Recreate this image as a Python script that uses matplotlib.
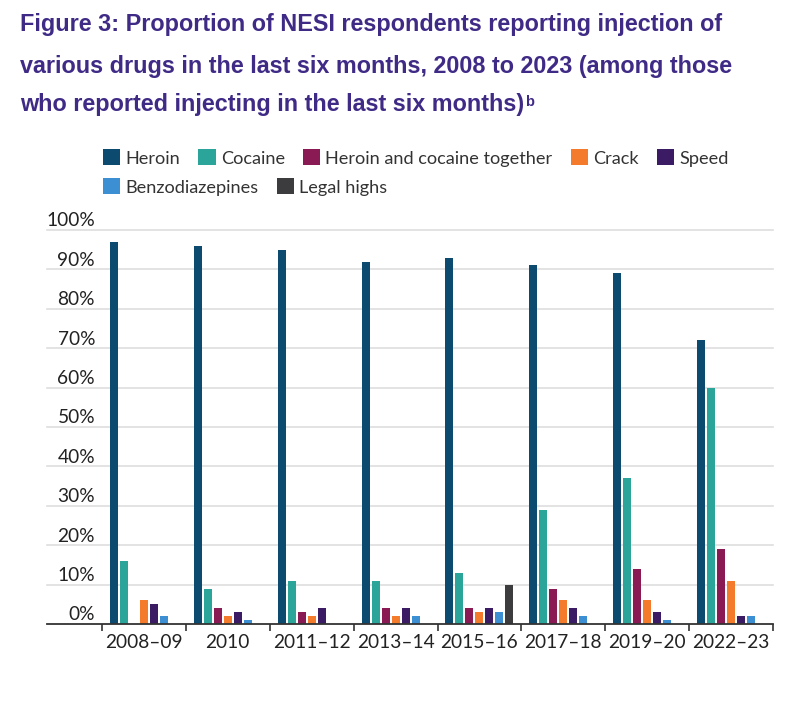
import numpy as np
import matplotlib
matplotlib.use("Agg")
import matplotlib.pyplot as plt
from matplotlib.patches import Patch

categories = ["2008–09", "2010", "2011–12", "2013–14", "2015–16", "2017–18", "2019–20", "2022–23"]
series_names = ["Heroin", "Cocaine", "Heroin and cocaine together", "Crack", "Speed",
                "Benzodiazepines", "Legal highs"]
heroin = [97, 96, 95, 92, 93, 91, 89, 72]
cocaine = [16, 9, 11, 11, 13, 29, 37, 60]
heroin_cocaine = [None, 4, 3, 4, 4, 9, 14, 19]
crack = [6, 2, 2, 2, 3, 6, 6, 11]
speed = [5, 3, 4, 4, 4, 4, 3, 2]
benzodiazepines = [2, 1, None, 2, 3, 2, 1, 2]
legal_highs = [None, None, None, None, 10, None, None, None]
y_ticks = [0, 10, 20, 30, 40, 50, 60, 70, 80, 90, 100]

series = [heroin, cocaine, heroin_cocaine, crack, speed, benzodiazepines, legal_highs]
colors = ["#0d4a70", "#2ba59a", "#8a1a54", "#f47b2b", "#3b1b63", "#3d8fd4", "#3c3c3e"]

W, H = 801, 702
fig = plt.figure(figsize=(W / 100, H / 100), dpi=100)
fig.patch.set_facecolor("white")

ax_left, ax_right, ax_bot, ax_top = 47, 773, 624, 230
ax = fig.add_axes([ax_left / W, 1 - ax_bot / H, (ax_right - ax_left) / W, (ax_bot - ax_top) / H])

group_px = (ax_right - 102) / len(categories)
left_extra = (102 - ax_left) / group_px
pitch = 10 / group_px
bw = 8 / group_px

x = np.arange(len(categories))
for k, (vals, c) in enumerate(zip(series, colors)):
    v = np.array([np.nan if a is None else a for a in vals], dtype=float)
    ax.bar(x + (k - 3) * pitch, v, width=bw, color=c, zorder=3)

ax.set_xlim(-0.5 - left_extra, len(categories) - 0.5)
ax.set_ylim(0, 100)

for t in y_ticks[1:]:
    ax.axhline(t, color="#dedede", lw=1.2, zorder=1, clip_on=False)

for s in ["top", "right", "left"]:
    ax.spines[s].set_visible(False)
ax.spines["bottom"].set_color("#333333")
ax.spines["bottom"].set_linewidth(1.3)
ax.spines["bottom"].set_zorder(4)

ax.set_yticks([])
ax.set_xticks(x)
ax.set_xticklabels(categories, fontsize=13.8, color="#222222", family="Lato")
ax.tick_params(axis="x", which="major", length=0, pad=7)
ax.set_xticks(np.arange(len(categories) + 1) - 0.5, minor=True)
ax.tick_params(axis="x", which="minor", length=5, width=1.2, color="#333333", direction="out")

for t in y_ticks:
    ax.annotate(f"{t}%", xy=(-0.5, t), xytext=(-5, 0.5), textcoords="offset points",
                ha="right", va="bottom", fontsize=13.8, color="#222222", family="Lato")

# Title
title_color = "#3f2a86"
lines = ["Figure 3: Proportion of NESI respondents reporting injection of",
         "various drugs in the last six months, 2008 to 2023 (among those",
         "who reported injecting in the last six months)"]
ys = [25, 66, 105]
tobjs = []
for ln, yy in zip(lines, ys):
    tobjs.append(fig.text(20 / W, 1 - yy / H, ln, fontsize=16.8, fontweight="bold",
                          family="Liberation Sans", color=title_color, va="center", ha="left"))
fig.canvas.draw()
bb = tobjs[2].get_window_extent()
fig.text((bb.x1 + 1) / W, (bb.y1 - 1) / H, "b", fontsize=10.5, fontweight="bold",
         family="Liberation Sans", color=title_color, va="top", ha="left")

# Legends
handles = [Patch(facecolor=c, edgecolor="none") for c in colors]
leg_kw = dict(frameon=False, loc="center left", handlelength=0.95,
              handleheight=0.95, handletextpad=0.28, columnspacing=1.0, borderpad=0,
              borderaxespad=0, labelcolor="#333333", prop={"family": "Lato", "size": 13.1})
leg1 = fig.legend(handles[:5], series_names[:5], ncol=5,
                  bbox_to_anchor=(103 / W, 1 - 158 / H), **leg_kw)
leg2 = fig.legend(handles[5:], series_names[5:], ncol=2,
                  bbox_to_anchor=(103 / W, 1 - 187 / H), **leg_kw)

fig.savefig("out.png", dpi=100, facecolor="white")
